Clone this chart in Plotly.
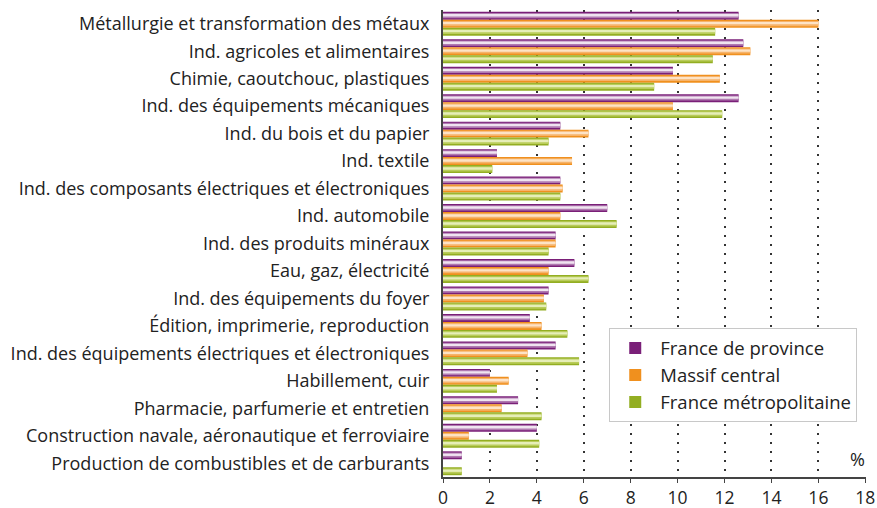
import plotly.graph_objects as go

categories = [
    "Métallurgie et transformation des métaux",
    "Ind. agricoles et alimentaires",
    "Chimie, caoutchouc, plastiques",
    "Ind. des équipements mécaniques",
    "Ind. du bois et du papier",
    "Ind. textile",
    "Ind. des composants électriques et électroniques",
    "Ind. automobile",
    "Ind. des produits minéraux",
    "Eau, gaz, électricité",
    "Ind. des équipements du foyer",
    "Édition, imprimerie, reproduction",
    "Ind. des équipements électriques et électroniques",
    "Habillement, cuir",
    "Pharmacie, parfumerie et entretien",
    "Construction navale, aéronautique et ferroviaire",
    "Production de combustibles et de carburants",
]
france_province = [12.6, 12.8, 9.8, 12.6, 5.0, 2.3, 5.0, 7.0, 4.8, 5.6, 4.5, 3.7, 4.8, 2.0, 3.2, 4.0, 0.8]
massif_central = [16.0, 13.1, 11.8, 9.8, 6.2, 5.5, 5.1, 5.0, 4.8, 4.5, 4.3, 4.2, 3.6, 2.8, 2.5, 1.1, 0.0]
france_metro = [11.6, 11.5, 9.0, 11.9, 4.5, 2.1, 5.0, 7.4, 4.5, 6.2, 4.4, 5.3, 5.8, 2.3, 4.2, 4.1, 0.8]
series_names = ["France de province", "Massif central", "France métropolitaine"]
x_ticks = [0, 2, 4, 6, 8, 10, 12, 14, 16, 18]

series = [france_province, massif_central, france_metro]
# (edge, mid, light) colours for each series
palettes = [
    ("#7a1f78", "#b07ab0", "#f0e4f0"),
    ("#f0901e", "#f6b36a", "#fde3c6"),
    ("#93ae22", "#b9cc5a", "#e6eeb8"),
]
bar_w = 0.29
offsets = [-0.435, -0.145, 0.145]

fig = go.Figure()
for i, (vals, name) in enumerate(zip(series, series_names)):
    dark, mid, light = palettes[i]
    base = offsets[i]
    fig.add_trace(go.Bar(
        y=categories, x=vals, orientation="h", name=name,
        marker=dict(color=dark, line=dict(width=0)),
        offset=base, width=bar_w, showlegend=True, hoverinfo="x+name",
    ))
    fig.add_trace(go.Bar(
        y=categories, x=vals, orientation="h", name=name,
        marker=dict(color=mid, line=dict(width=0)),
        offset=base + bar_w * 0.15, width=bar_w * 0.65, showlegend=False, hoverinfo="skip",
    ))
    fig.add_trace(go.Bar(
        y=categories, x=vals, orientation="h", name=name,
        marker=dict(color=light, line=dict(width=0)),
        offset=base + bar_w * 0.28, width=bar_w * 0.3, showlegend=False, hoverinfo="skip",
    ))

font_family = "'Open Sans', Lato, sans-serif"

fig.update_layout(
    width=877, height=508,
    margin=dict(l=443, r=11, t=10, b=31),
    barmode="overlay",
    plot_bgcolor="white", paper_bgcolor="white",
    font=dict(family=font_family, size=18, color="#222222"),
    showlegend=True,
    legend=dict(
        x=0.393, y=0.318, xanchor="left", yanchor="top",
        bgcolor="white", bordercolor="#c8c8c8", borderwidth=1,
        font=dict(size=18.5, color="#222222"),
        traceorder="normal", itemwidth=40,
    ),
    xaxis=dict(
        range=[0, 18.03], tickvals=x_ticks, ticktext=[str(v) for v in x_ticks],
        showgrid=True, gridcolor="#333333", griddash="1.5px,7.5px", gridwidth=1.5,
        zeroline=False, showline=True, linecolor="#444444", linewidth=2,
        ticks="outside", ticklen=4, tickcolor="#444444", automargin=False,
        tickfont=dict(size=17.5, color="#222222"), ticklabeloverflow="allow",
    ),
    yaxis=dict(
        categoryorder="array", categoryarray=categories, autorange="reversed",
        showgrid=False, zeroline=False, showline=True, linecolor="#444444", linewidth=2,
        ticks="", ticklabelstandoff=8, automargin=False,
        tickfont=dict(size=18, color="#222222"),
    ),
    annotations=[dict(
        text="%", xref="paper", yref="paper", x=1, y=0, xanchor="right", yanchor="bottom",
        yshift=4, xshift=1, showarrow=False, font=dict(size=18, color="#222222"),
    )],
)

fig.write_html(
    "out.html",
    config={"displayModeBar": False},
    post_script="document.body.style.margin='0';document.body.style.overflow='hidden';",
)
